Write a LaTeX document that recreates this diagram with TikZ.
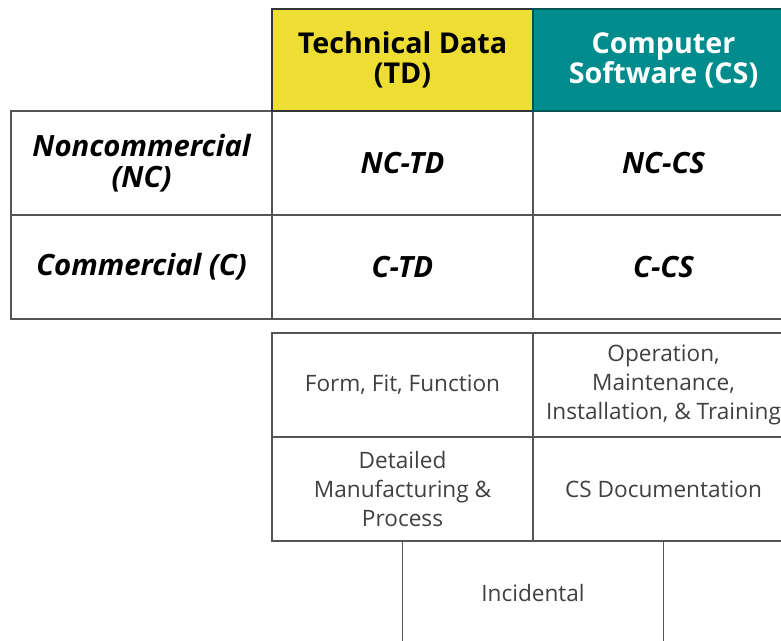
\documentclass[tikz,border=0pt]{standalone}
\usepackage{fontspec}
\setmainfont{Open Sans}
\usetikzlibrary{positioning}
\definecolor{tdyellow}{RGB}{238,222,52}
\definecolor{csteal}{RGB}{0,140,140}
\definecolor{gridgray}{RGB}{85,85,85}

\begin{document}
\begin{tikzpicture}[x=0.03cm, y=-0.03cm,
  cell/.style={draw=gridgray, line width=1.6pt, minimum width=7.83cm, minimum height=3.12cm,
    inner sep=0pt, outer sep=0pt, align=center},
  head/.style={cell, minimum height=3.06cm, draw=black!80, font=\fontsize{24.5}{25.5}\selectfont\bfseries},
  kind/.style={cell, font=\fontsize{25}{26}\selectfont\bfseries\itshape},
  sub/.style={cell, font=\fontsize{19.3}{24.5}\selectfont, text=black!75}]
\useasboundingbox (0,0) rectangle (781,640);
\clip (0,0) rectangle (781,640);
% upper table
\node[kind] (nc) at (141.5,163) {Noncommercial\\(NC)};
\node[kind, right=0pt of nc] (nctd) {NC-TD};
\node[kind, right=0pt of nctd] (nccs) {NC-CS};
\node[kind, below=0pt of nc] (c) {Commercial (C)};
\node[kind, below=0pt of nctd] (ctd) {C-TD};
\node[kind, below=0pt of nccs] (ccs) {C-CS};
\node[head, fill=tdyellow, above=0pt of nctd] (td) {Technical Data\\(TD)};
\node[head, fill=csteal, draw=csteal!60!black, text=white, above=0pt of nccs] (cs) {Computer\\Software (CS)};
% lower table
\node[sub, below=0.42cm of ctd] (fff) {Form, Fit, Function};
\node[sub, right=0pt of fff] (omit) {Operation,\\Maintenance,\\Installation, \& Training};
\node[sub, below=0pt of fff] (dmp) {Detailed\\Manufacturing \&\\Process};
\node[sub, below=0pt of omit] (csd) {CS Documentation};
\node[sub, below=0pt of dmp.south east] (inc) {Incidental};
\end{tikzpicture}
\end{document}
